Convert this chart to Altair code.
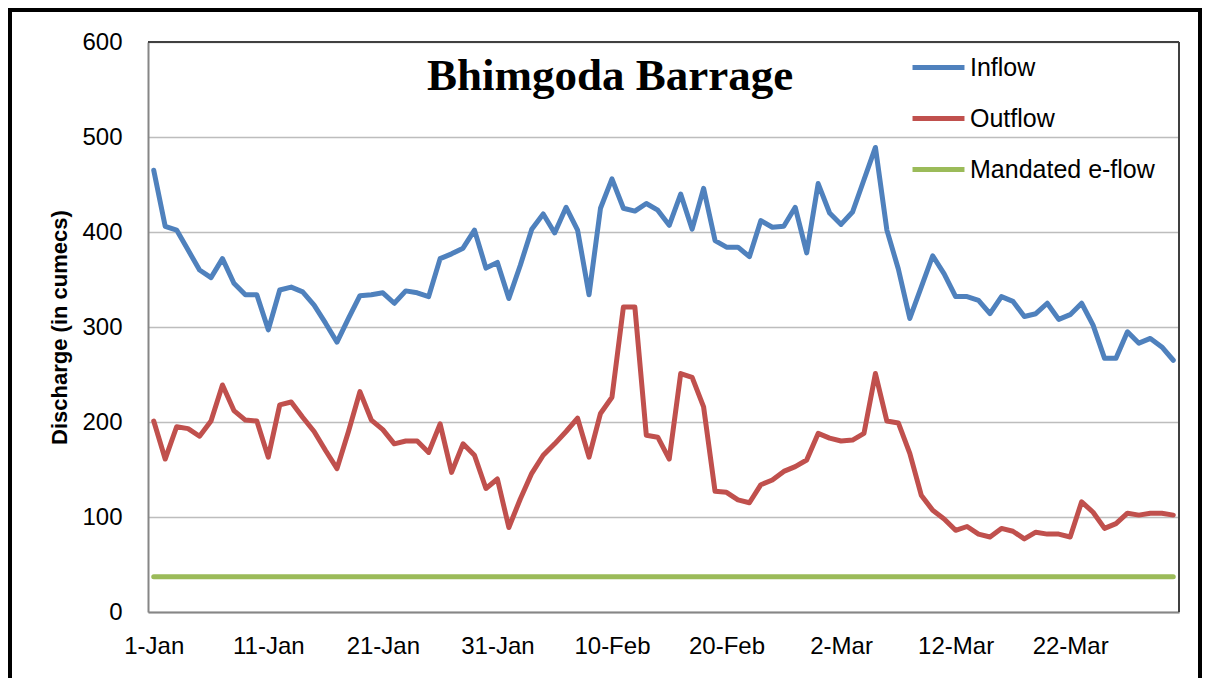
import altair as alt
import pandas as pd

# ---- data ----
series_names = ["Inflow", "Outflow", "Mandated e-flow"]
series_colors = ["#4f81bd", "#c0504d", "#9bbb59"]

tick_labels = ["1-Jan", "11-Jan", "21-Jan", "31-Jan", "10-Feb", "20-Feb", "2-Mar", "12-Mar", "22-Mar"]
tick_days = [0, 10, 20, 30, 40, 50, 60, 70, 80]
y_ticks = [0, 100, 200, 300, 400, 500, 600]

inflow = [465, 406, 402, 381, 360, 352, 372, 346, 334, 334,
          297, 339, 342, 337, 323, 304, 284, 309, 333, 334,
          336, 325, 338, 336, 332, 372, 377, 383, 402, 362,
          368, 330, 365, 403, 419, 399, 426, 402, 334, 425,
          456, 425, 422, 430, 423, 407, 440, 403, 446, 391,
          384, 384, 374, 412, 405, 406, 426, 378, 451, 420,
          408, 421, 455, 489, 402, 361, 309, 342, 375, 356,
          332, 332, 328, 314, 332, 327, 311, 314, 325, 308,
          313, 325, 302, 267, 267, 295, 283, 288, 279, 265]

outflow = [201, 161, 195, 193, 185, 201, 239, 212, 202, 201,
           163, 218, 221, 205, 190, 170, 151, 190, 232, 202,
           192, 177, 180, 180, 168, 198, 147, 177, 165, 130,
           140, 89, 119, 146, 165, 177, 190, 204, 163, 209,
           226, 321, 321, 186, 184, 161, 251, 247, 216, 127,
           126, 118, 115, 134, 139, 148, 153, 160, 188, 183,
           180, 181, 188, 251, 201, 199, 167, 123, 107, 98,
           86, 90, 82, 79, 88, 85, 77, 84, 82, 82,
           79, 116, 105, 88, 93, 104, 102, 104, 104, 102]

eflow_value = 37  # constant mandated e-flow

rows = []
for i in range(len(inflow)):
    rows.append({"day": i, "series": "Inflow", "value": inflow[i]})
for i in range(len(outflow)):
    rows.append({"day": i, "series": "Outflow", "value": outflow[i]})
for i in range(len(inflow)):
    rows.append({"day": i, "series": "Mandated e-flow", "value": eflow_value})
df = pd.DataFrame(rows)
one = pd.DataFrame({"k": [0]})

W, H = 1031, 570
FONT = "Liberation Sans"

label_expr = "[" + ",".join("'" + t + "'" for t in tick_labels) + "][round(datum.value/10)]"

x_axis = alt.Axis(values=tick_days, labelExpr=label_expr, grid=False, ticks=False,
                  domainColor="#868686", domainWidth=2, labelFont=FONT, labelFontSize=24,
                  labelColor="black", labelPadding=22, title=None, labelOverlap=False)
y_axis = alt.Axis(values=y_ticks, grid=True, gridColor="#bdbdbd", gridWidth=1.5, ticks=False,
                  domainColor="#868686", domainWidth=2, labelFont=FONT, labelFontSize=24,
                  labelColor="black", labelPadding=26,
                  title="Discharge (in cumecs)", titleFont=FONT, titleFontSize=22,
                  titleFontWeight="bold", titleColor="black", titleX=-89, titleY=H / 2,
                  titleAngle=270, titleAlign="center", titleBaseline="middle")

lines = alt.Chart(df).mark_line(strokeWidth=5, strokeJoin="round", strokeCap="round").encode(
    x=alt.X("day:Q", scale=alt.Scale(domain=[-0.5, 89.5], nice=False, zero=False), axis=x_axis),
    y=alt.Y("value:Q", scale=alt.Scale(domain=[0, 600], nice=False), axis=y_axis),
    color=alt.Color("series:N", sort=series_names,
                    scale=alt.Scale(domain=series_names, range=series_colors),
                    legend=alt.Legend(title=None, orient="none", legendX=762, legendY=-3,
                                      symbolType="stroke", symbolSize=2700, symbolStrokeWidth=5,
                                      labelFont=FONT, labelFontSize=25, labelColor="black",
                                      labelOffset=3, rowPadding=9, padding=0, labelLimit=400)),
)

top_border = alt.Chart(one).mark_rule(color="#404040", strokeWidth=2).encode(
    x=alt.value(0), x2=alt.value(W), y=alt.value(0))
right_border = alt.Chart(one).mark_rule(color="#404040", strokeWidth=2).encode(
    x=alt.value(W), y=alt.value(0), y2=alt.value(H))

frame = alt.Chart(one).mark_rect(filled=False, stroke="black", strokeWidth=4).encode(
    x=alt.value(-138), x2=alt.value(W + 21), y=alt.value(-32), y2=alt.value(H + 100))

title = alt.Chart(one).mark_text(text="Bhimgoda Barrage", font="Liberation Serif", fontSize=45,
                                 fontWeight="bold", align="center", baseline="alphabetic",
                                 color="black").encode(x=alt.value(462), y=alt.value(48))

chart = alt.layer(lines, top_border, right_border, title, frame).properties(
    width=W, height=H,
    autosize=alt.AutoSizeParams(type="none"),
    padding={"left": 140, "top": 34, "right": 23, "bottom": 66},
    background="white",
).configure_view(strokeWidth=0)

chart.save("out.html", embed_options={"renderer": "svg", "actions": False})
